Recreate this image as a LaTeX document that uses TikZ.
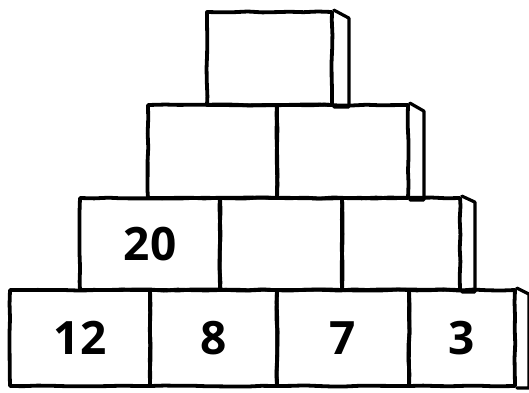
\documentclass[tikz,border=0pt]{standalone}
\usepackage{fontspec}
\newfontfamily\numfont{Open Sans}
\usepackage{tikz}
\usetikzlibrary{decorations.pathmorphing}

\tikzset{
  brick/.style={draw, line width=3.8pt, inner sep=0pt, line join=round,
                decorate, decoration={random steps, segment length=14pt, amplitude=0.6pt},
                font=\numfont\bfseries\fontsize{46}{46}\selectfont},
  face/.style={line width=3.2pt, line join=round, line cap=round}
}

\begin{document}
\begin{tikzpicture}[x=1pt, y=-1pt]
  \pgfmathsetseed{11}
  \useasboundingbox (0,0) rectangle (529,392);
  % top row
  \node[brick, minimum width=125pt, minimum height=93pt] (top) at (269.5,58.5) {};
  % second row
  \node[brick, minimum width=129pt, minimum height=93pt] (mid1) at (212.5,151.5) {};
  \node[brick, minimum width=131pt, minimum height=93pt] (mid2) at (342.5,151.5) {};
  % third row
  \node[brick, minimum width=140pt, minimum height=92pt] (row1) at (150,244) {20};
  \node[brick, minimum width=122pt, minimum height=92pt] (row2) at (281,244) {};
  \node[brick, minimum width=118pt, minimum height=92pt] (row3) at (401,244) {};
  % bottom row
  \node[brick, minimum width=140pt, minimum height=96pt] (base1) at (80,338) {12};
  \node[brick, minimum width=127pt, minimum height=96pt] (base2) at (213.5,338) {8};
  \node[brick, minimum width=132pt, minimum height=96pt] (base3) at (343,338) {7};
  \node[brick, minimum width=106pt, minimum height=96pt] (base4) at (462,338) {3};
  % side faces
  \draw[face] (top.north east) -- ++(15,8) |- (top.south east);
  \draw[face] (mid2.north east) -- ++(14,8) |- (mid2.south east);
  \draw[face] (row3.north east) -- ++(13,6) |- (row3.south east);
  \draw[face] (base4.north east) -- ++(12,6) |- (base4.south east);
\end{tikzpicture}
\end{document}
